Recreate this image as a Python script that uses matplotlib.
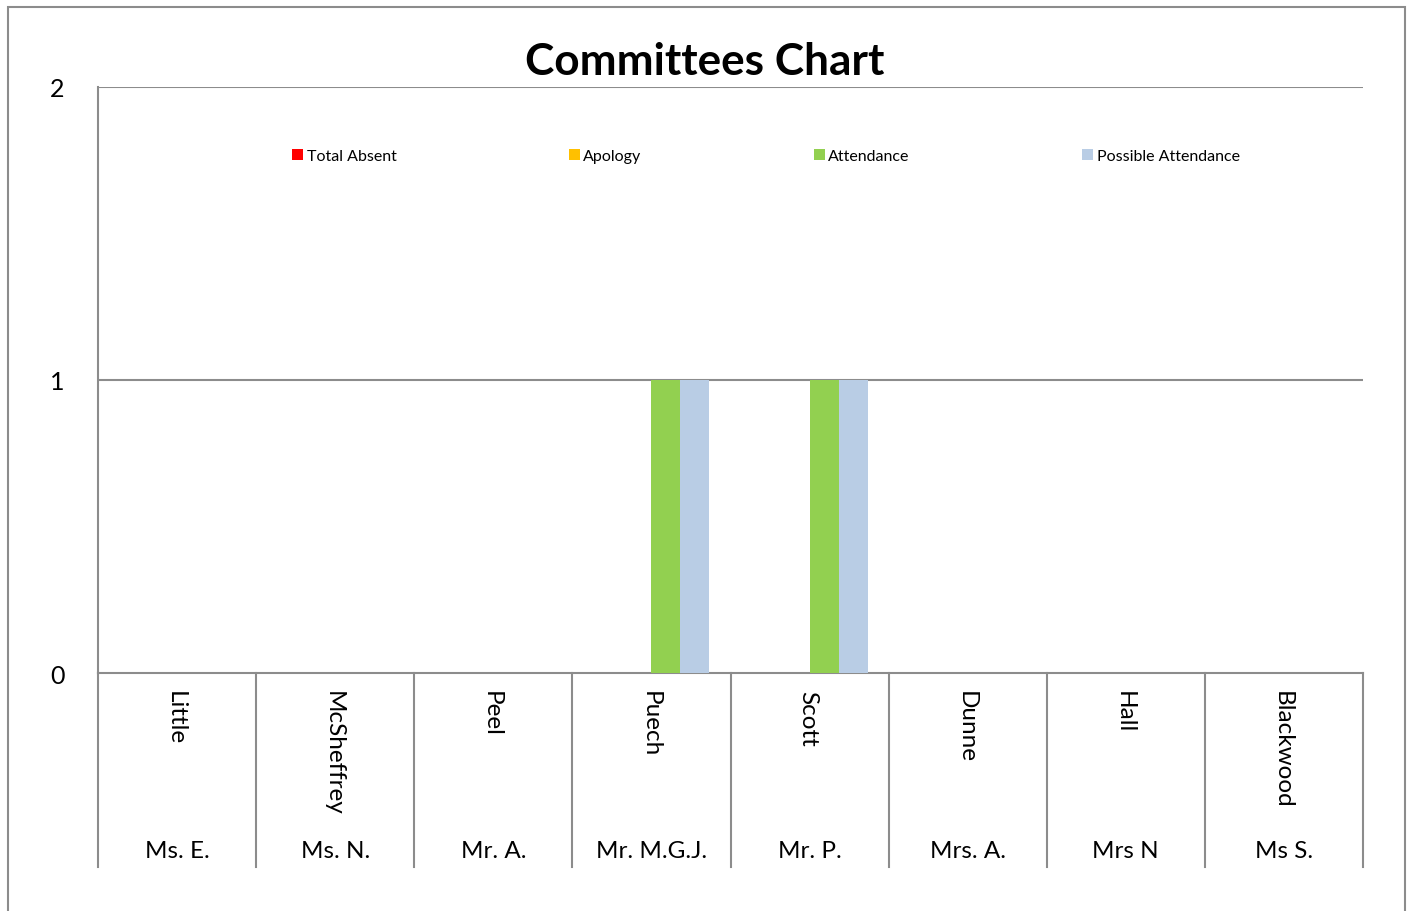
import matplotlib
matplotlib.use("Agg")
import matplotlib.pyplot as plt
import matplotlib.patches as mpatches
import numpy as np

plt.rcParams['font.family'] = ['Lato', 'DejaVu Sans']

surnames = ["Little", "McSheffrey", "Peel", "Puech", "Scott", "Dunne", "Hall", "Blackwood"]
first_names = ["Ms. E.", "Ms. N.", "Mr. A.", "Mr. M.G.J.", "Mr. P.", "Mrs. A.", "Mrs N", "Ms S."]
series_names = ["Total Absent", "Apology", "Attendance", "Possible Attendance"]
total_absent = [0, 0, 0, 0, 0, 0, 0, 0]
apology = [0, 0, 0, 0, 0, 0, 0, 0]
attendance = [0, 0, 0, 1, 1, 0, 0, 0]
possible_attendance = [0, 0, 0, 1, 1, 0, 0, 0]
y_ticks = [0, 1, 2]

colors = ["#FF0000", "#FFC000", "#92D050", "#B9CDE5"]
series = [total_absent, apology, attendance, possible_attendance]

W, H = 1410, 912
fig = plt.figure(figsize=(W / 100, H / 100), dpi=100)
ax = fig.add_axes([98 / W, 1 - 674 / H, (1363 - 98) / W, (674 - 88) / H])

n = len(surnames)
x = np.arange(n)
bw = 0.1835
for k, (vals, c, name) in enumerate(zip(series, colors, series_names)):
    ax.bar(x + (k - 1.5) * bw, vals, width=bw, color=c, label=name, zorder=3)

ax.set_xlim(-0.5, n - 0.5)
ax.set_ylim(0, 2)
ax.set_yticks(y_ticks)
ax.set_yticklabels([str(v) for v in y_ticks], fontsize=18)
ax.tick_params(axis='y', length=0, pad=24)
ax.set_xticks([])
for v in y_ticks[1:]:
    ax.axhline(v, color="#8C8C8C", lw=1.5, zorder=1)
for s in ["top", "right"]:
    ax.spines[s].set_visible(False)
for s in ["left", "bottom"]:
    ax.spines[s].set_color("#8C8C8C")
    ax.spines[s].set_linewidth(1.5)

# multi-level category axis
trans = matplotlib.transforms.blended_transform_factory(ax.transData, ax.transAxes)
y_end = -(868 - 674) / (674 - 88)
for i in range(n + 1):
    ax.plot([i - 0.5, i - 0.5], [0, y_end], color="#8C8C8C", lw=1.5,
            transform=trans, clip_on=False)
for i in range(n):
    ax.text(i - 0.01, -(691 - 674) / (674 - 88), surnames[i], transform=trans,
            rotation=-90, ha='center', va='top', fontsize=17.5)
    ax.text(i, -(852 - 674) / (674 - 88), first_names[i], transform=trans,
            ha='center', va='center', fontsize=17.5)

leg = ax.legend(loc='center', bbox_to_anchor=(0.528, 1 - (157 - 88) / (674 - 88)),
                ncol=4, frameon=False, fontsize=11.5, handlelength=0.7, handleheight=0.7,
                handletextpad=0.2, columnspacing=10.8)

fig.text(0.5, 1 - 62 / H, "Committees Chart", ha='center', va='center',
         fontsize=31.8, fontweight='bold')

fig.patches.append(mpatches.Rectangle((8 / W, -0.05), (1405 - 8) / W, 1 - 8 / H + 0.05,
                                      transform=fig.transFigure, fill=False,
                                      edgecolor="#8C8C8C", lw=1.5))

fig.savefig("out.png", dpi=100)
